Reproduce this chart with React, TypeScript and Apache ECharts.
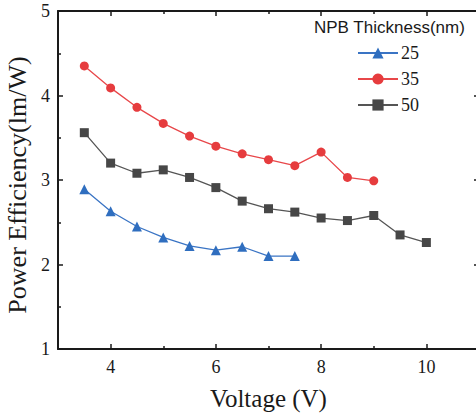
import React, { useEffect, useRef } from "react";
import * as echarts from "echarts";

const voltage25 = [3.5, 4, 4.5, 5, 5.5, 6, 6.5, 7, 7.5];
const eff25 = [2.89, 2.63, 2.45, 2.32, 2.22, 2.17, 2.21, 2.1, 2.1];

const voltage35 = [3.5, 4, 4.5, 5, 5.5, 6, 6.5, 7, 7.5, 8, 8.5, 9];
const eff35 = [4.35, 4.09, 3.86, 3.67, 3.52, 3.4, 3.31, 3.24, 3.17, 3.33, 3.03, 2.99];

const voltage50 = [3.5, 4, 4.5, 5, 5.5, 6, 6.5, 7, 7.5, 8, 8.5, 9, 9.5, 10];
const eff50 = [3.56, 3.2, 3.08, 3.12, 3.03, 2.91, 2.75, 2.66, 2.62, 2.55, 2.52, 2.58, 2.35, 2.26];

const xMajorTicks = [4, 6, 8, 10];
const xMinorTicks = [5, 7, 9];

const serif = "Liberation Serif";
const sans = "Liberation Sans";
const ink = "#1a1a1a";

const zip = (xs: number[], ys: number[]) => xs.map((x, i) => [x, ys[i]]);

export default function App() {
  const ref = useRef<HTMLDivElement>(null);
  useEffect(() => {
    if (!ref.current) return;
    const chart = echarts.init(ref.current, null, { renderer: "svg" });
    const axisLine = { show: true, lineStyle: { color: ink, width: 2 } };
    const xBase = { type: "value", min: 3, max: 11, splitLine: { show: false } };
    chart.setOption({
      animation: false,
      backgroundColor: "#ffffff",
      title: {
        text: "NPB Thickness(nm)",
        left: 314,
        top: 19,
        padding: 0,
        textStyle: { fontFamily: sans, fontSize: 17, fontWeight: "normal", color: ink },
      },
      legend: {
        orient: "vertical",
        left: 357,
        top: 44,
        padding: 0,
        itemWidth: 40,
        itemHeight: 14,
        itemGap: 8,
        textStyle: { fontFamily: serif, fontSize: 18, color: ink, padding: [0, 0, 0, -2] },
        data: ["25", "35", "50"],
      },
      grid: { left: 58, right: -3, top: 11, bottom: 66, containLabel: false, outerBoundsMode: "none" },
      xAxis: [
        {
          ...xBase,
          position: "bottom",
          name: "Voltage (V)",
          nameLocation: "middle",
          nameGap: 37,
          nameTextStyle: { fontFamily: serif, fontSize: 25, color: ink },
          axisLine,
          axisTick: { inside: true, length: 5, customValues: xMajorTicks, lineStyle: { color: ink, width: 1.5 } },
          axisLabel: { customValues: xMajorTicks, margin: 9, fontFamily: serif, fontSize: 18, color: ink },
        },
        {
          ...xBase,
          position: "bottom",
          axisLine: { show: false },
          axisTick: { inside: true, length: 3, customValues: xMinorTicks, lineStyle: { color: ink, width: 1.5 } },
          axisLabel: { show: false },
        },
        {
          ...xBase,
          position: "top",
          axisLine,
          axisTick: { inside: true, length: 5, customValues: xMajorTicks, lineStyle: { color: ink, width: 1.5 } },
          axisLabel: { show: false },
        },
        {
          ...xBase,
          position: "top",
          axisLine: { show: false },
          axisTick: { inside: true, length: 3, customValues: xMinorTicks, lineStyle: { color: ink, width: 1.5 } },
          axisLabel: { show: false },
        },
      ],
      yAxis: [
        {
          type: "value",
          position: "left",
          min: 1,
          max: 5,
          interval: 1,
          name: "Power Efficiency(lm/W)",
          nameLocation: "middle",
          nameGap: 19,
          nameTextStyle: { fontFamily: serif, fontSize: 26, color: ink, padding: [0, 0, 0, -10] },
          splitLine: { show: false },
          axisLine,
          axisTick: { inside: true, length: 5, lineStyle: { color: ink, width: 1.5 } },
          minorTick: { show: true, splitNumber: 2, length: 3, lineStyle: { color: ink, width: 1.5 } },
          axisLabel: { margin: 8, fontFamily: serif, fontSize: 18, color: ink },
        },
        {
          type: "value",
          position: "right",
          min: 1,
          max: 5,
          interval: 1,
          splitLine: { show: false },
          axisLine,
          axisTick: { inside: true, length: 5, lineStyle: { color: ink, width: 1.5 } },
          minorTick: { show: true, splitNumber: 2, length: 3, lineStyle: { color: ink, width: 1.5 } },
          axisLabel: { show: false },
        },
      ],
      series: [
        {
          name: "25",
          type: "line",
          data: zip(voltage25, eff25),
          symbol: "triangle",
          symbolSize: 10,
          itemStyle: { color: "#2f6ebf" },
          lineStyle: { color: "#3a74c4", width: 1.3 },
        },
        {
          name: "35",
          type: "line",
          data: zip(voltage35, eff35),
          symbol: "circle",
          symbolSize: 9,
          itemStyle: { color: "#e63c3e" },
          lineStyle: { color: "#e8474a", width: 1.3 },
        },
        {
          name: "50",
          type: "line",
          data: zip(voltage50, eff50),
          symbol: "rect",
          symbolSize: 9,
          itemStyle: { color: "#474747" },
          lineStyle: { color: "#555555", width: 1.3 },
        },
      ],
    });
    return () => chart.dispose();
  }, []);
  return <div ref={ref} style={{ width: 476, height: 415, position: "absolute", left: 0, top: 0 }} />;
}
